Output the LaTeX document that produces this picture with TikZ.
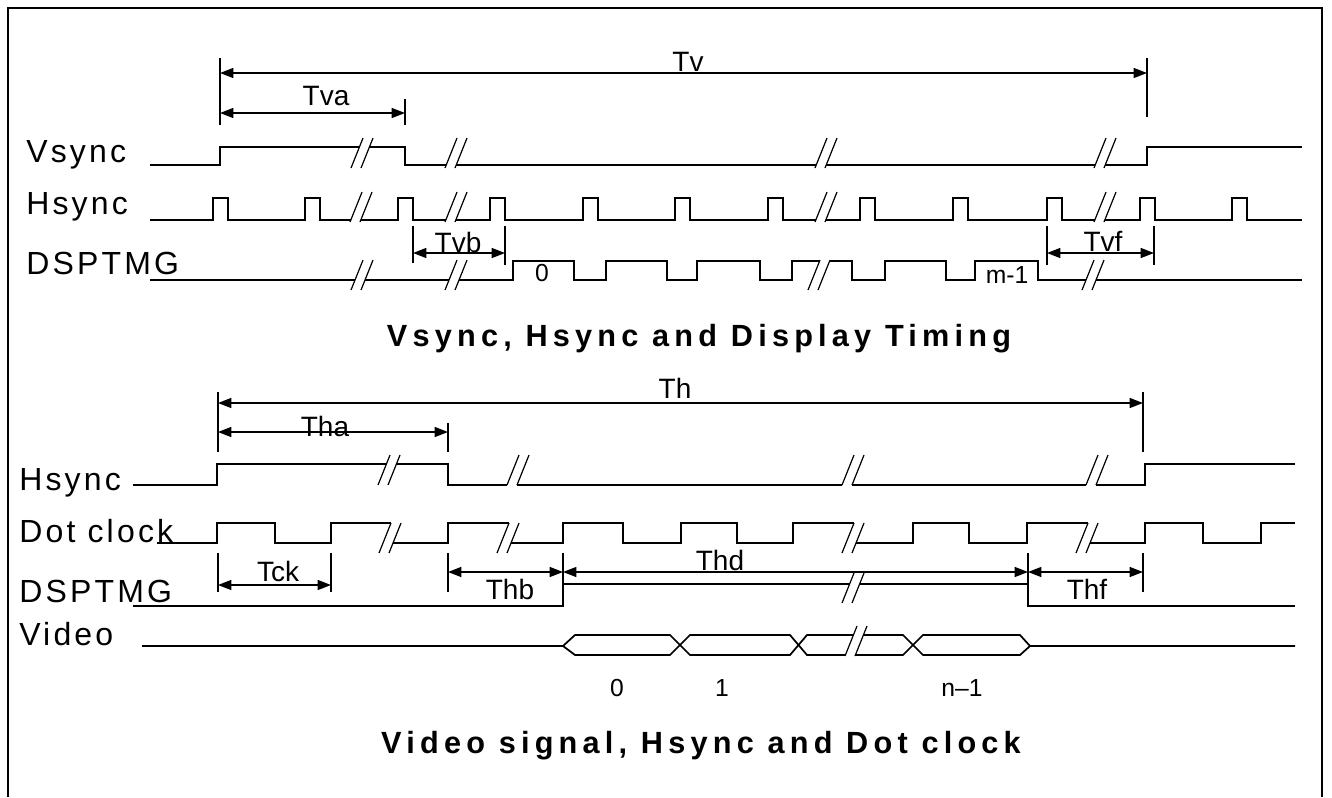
\documentclass[tikz,border=0pt]{standalone}
\usepackage{fontspec}
\setmainfont{Liberation Sans}
\newfontfamily\sigfont{Liberation Sans}[LetterSpace=10]
\newfontfamily\headfont{Liberation Sans}[LetterSpace=17]
\usetikzlibrary{arrows.meta}
\begin{document}
\begin{tikzpicture}[x=0.75pt,y=-0.75pt,
  wave/.style={line width=1.3pt},
  slash/.style={line width=0.9pt},
  tick/.style={line width=1pt},
  dim/.style={line width=1pt,{Triangle[length=10pt,width=7.5pt]}-{Triangle[length=10pt,width=7.5pt]}},
  signame/.style={anchor=base west,inner sep=0pt,font=\sigfont\fontsize{24pt}{28pt}\selectfont},
  dimlabel/.style={inner sep=0pt,font=\fontsize{21pt}{24pt}\selectfont},
  numlabel/.style={inner sep=0pt,font=\fontsize{18.5pt}{21pt}\selectfont},
  title/.style={anchor=base,inner sep=0pt,font=\headfont\bfseries\fontsize{23pt}{26pt}\selectfont}]
\useasboundingbox (0,0) rectangle (1332,797);
% draw the frame
\draw[line width=1.5pt] (8,797) -- (8,8) -- (1322,8) -- (1322,797);

% signal names
\node[signame] (vsync) at (26,162) {Vsync};
\node[signame] (hsync) at (26,214) {Hsync};
\node[signame] (dsptmg) at (26,274) {DSPTMG};
\node[signame] (hsync2) at (19,490) {Hsync};
\node[signame] (dotclk) at (19,542) {Dot clock};
\node[signame] (dsptmg2) at (19,602) {DSPTMG};
\node[signame] (video) at (19,645) {Video};

% draw the Vsync waveform
\draw[wave] (150,165) -- (220,165) -- (220,147) -- (359,147);
\draw[wave] (369,147) -- (405,147) -- (405,165) -- (446,165);
\draw[wave] (456,165) -- (816,165);
\draw[wave] (826,165) -- (1095,165);
\draw[wave] (1105,165) -- (1147,165) -- (1147,147) -- (1302,147);

% draw the Hsync pulses
\draw[wave] (150,220) foreach \r in {213,305} {-- (\r,220) -- (\r,198) -- (\r+15,198) -- (\r+15,220)} -- (351,220);
\draw[wave] (361,220) foreach \r in {398} {-- (\r,220) -- (\r,198) -- (\r+15,198) -- (\r+15,220)} -- (446,220);
\draw[wave] (456,220) foreach \r in {490,583,675,768} {-- (\r,220) -- (\r,198) -- (\r+15,198) -- (\r+15,220)} -- (816,220);
\draw[wave] (826,220) foreach \r in {860,953,1047} {-- (\r,220) -- (\r,198) -- (\r+15,198) -- (\r+15,220)} -- (1095,220);
\draw[wave] (1105,220) foreach \r in {1140,1232} {-- (\r,220) -- (\r,198) -- (\r+15,198) -- (\r+15,220)} -- (1302,220);

% draw the display timing
\draw[wave] (150,280) -- (355,280);
\draw[wave] (365,280) -- (449,280);
\draw[wave] (459,280) -- (513,280) -- (513,261) -- (574,261) -- (574,280) -- (606,280) -- (606,261) -- (667,261) -- (667,280)
  -- (697,280) -- (697,261) -- (760,261) -- (760,280) -- (792,280) -- (792,261) -- (820,261);
\draw[wave] (830,261) -- (852,261) -- (852,280) -- (885,280) -- (885,261) -- (946,261) -- (946,280) -- (975,280) -- (975,261)
  -- (1038,261) -- (1038,280) -- (1086,280);
\draw[wave] (1096,280) -- (1302,280);
\node[numlabel] (line0) at (542,273) {0};
\node[numlabel] (linem) at (1007,275) {m-1};

% break marks
\foreach \x/\y in {362/153,456/153,826/153,1105/153,361/207,456/207,826/207,1105/207,362/275,456/275,819/275,1093/275,
  389/470,518/470,853/470,1097/470,390/538,508/538,853/538,1087/538,853/588,856/641}
  \draw[slash] (\x-11,\y+15) -- +(12,-30) (\x-1,\y+15) -- +(12,-30);

% draw the vertical timing dimensions
\draw[tick] (220,58) -- (220,125);
\draw[tick] (1147,58) -- (1147,117);
\draw[tick] (405,99) -- (405,125);
\draw[tick] (413,226) -- (413,263);
\draw[tick] (505,226) -- (505,265);
\draw[tick] (1047,226) -- (1047,265);
\draw[tick] (1154,226) -- (1154,265);
\coordinate (tv-l) at (220,73);
\coordinate (tv-r) at (1147,73);
\coordinate (tva-l) at (220,113);
\coordinate (tva-r) at (405,113);
\coordinate (tvb-l) at (413,253);
\coordinate (tvb-r) at (505,253);
\coordinate (tvf-l) at (1047,253);
\coordinate (tvf-r) at (1154,253);
\draw[dim] (tv-l) -- (tv-r);
\draw[dim] (tva-l) -- (tva-r);
\draw[dim] (tvb-l) -- (tvb-r);
\draw[dim] (tvf-l) -- (tvf-r);
\node[dimlabel] (tv) at (688,62) {Tv};
\node[dimlabel] (tva) at (326,96) {Tva};
\node[dimlabel] (tvb) at (458,242) {Tvb};
\node[dimlabel] (tvf) at (1103,241) {Tvf};

% add the caption
\node[title] (cap1) at (699,346) {Vsync, Hsync and Display Timing};

% draw the horizontal Hsync
\draw[wave] (133,485) -- (217,485) -- (217,464) -- (386,464);
\draw[wave] (396,464) -- (448,464) -- (448,485) -- (507,485);
\draw[wave] (517,485) -- (842,485);
\draw[wave] (852,485) -- (1086,485);
\draw[wave] (1096,485) -- (1145,485) -- (1145,464) -- (1295,464);

% draw the dot clock
\draw[wave] (157,543) -- (217,543) -- (217,523) -- (275,523) -- (275,543) -- (331,543) -- (331,523) -- (391,523);
\draw[wave] (393,543) -- (448,543) -- (448,523) -- (509,523);
\draw[wave] (511,543) -- (563,543) -- (563,523) -- (623,523) -- (623,543) -- (681,543) -- (681,523) -- (737,523)
  -- (737,543) -- (793,543) -- (793,523) -- (854,523);
\draw[wave] (856,543) -- (913,543) -- (913,523) -- (969,523) -- (969,543) -- (1027,543) -- (1027,523) -- (1088,523);
\draw[wave] (1090,543) -- (1145,543) -- (1145,523) -- (1203,523) -- (1203,543) -- (1261,543) -- (1261,523) -- (1295,523);

% draw the DSPTMG and the video data
\draw[wave] (133,606) -- (563,606) -- (563,584) -- (850,584);
\draw[wave] (860,584) -- (1028,584) -- (1028,606) -- (1295,606);
\draw[wave] (142,646) -- (563,646) -- (575,635) -- (670,635) -- (690,655) -- (790,655) -- (807,635) -- (853,635);
\draw[wave] (563,646) -- (575,655) -- (670,655) -- (690,635) -- (790,635) -- (807,655) -- (845,655);
\draw[wave] (863,635) -- (903,635) -- (923,655) -- (1020,655) -- (1030,646) -- (1295,646);
\draw[wave] (855,655) -- (903,655) -- (923,635) -- (1020,635) -- (1030,646);
\node[numlabel] (word0) at (617,688) {0};
\node[numlabel] (word1) at (722,688) {1};
\node[numlabel] (wordn) at (962,688) {n\textendash 1};

% draw the horizontal timing dimensions
\draw[tick] (218,392) -- (218,452);
\draw[tick] (1143,392) -- (1143,452);
\draw[tick] (448,423) -- (448,452);
\draw[tick] (218,553) -- (218,592);
\draw[tick] (331,553) -- (331,592);
\draw[tick] (448,553) -- (448,592);
\draw[tick] (563,553) -- (563,584);
\draw[tick] (1028,553) -- (1028,584);
\draw[tick] (1143,553) -- (1143,592);
\coordinate (th-l) at (218,403);
\coordinate (th-r) at (1143,403);
\coordinate (tha-l) at (218,432);
\coordinate (tha-r) at (448,432);
\coordinate (tck-l) at (218,585);
\coordinate (tck-r) at (331,585);
\coordinate (thb-l) at (448,572);
\coordinate (thd-l) at (563,572);
\coordinate (thf-l) at (1028,572);
\coordinate (thf-r) at (1143,572);
\draw[dim] (th-l) -- (th-r);
\draw[dim] (tha-l) -- (tha-r);
\draw[dim] (tck-l) -- (tck-r);
\draw[dim] (thb-l) -- (thd-l);
\draw[dim] (thd-l) -- (thf-l);
\draw[dim] (thf-l) -- (thf-r);
\node[dimlabel] (th) at (675,388) {Th};
\node[dimlabel] (tha) at (325,426) {Tha};
\node[dimlabel] (tck) at (278,571) {Tck};
\node[dimlabel] (thb) at (510,589) {Thb};
\node[dimlabel] (thd) at (720,560) {Thd};
\node[dimlabel] (thf) at (1087,589) {Thf};

% add the caption
\node[title] (cap2) at (701,753) {Video signal, Hsync and Dot clock};
\end{tikzpicture}
\end{document}
